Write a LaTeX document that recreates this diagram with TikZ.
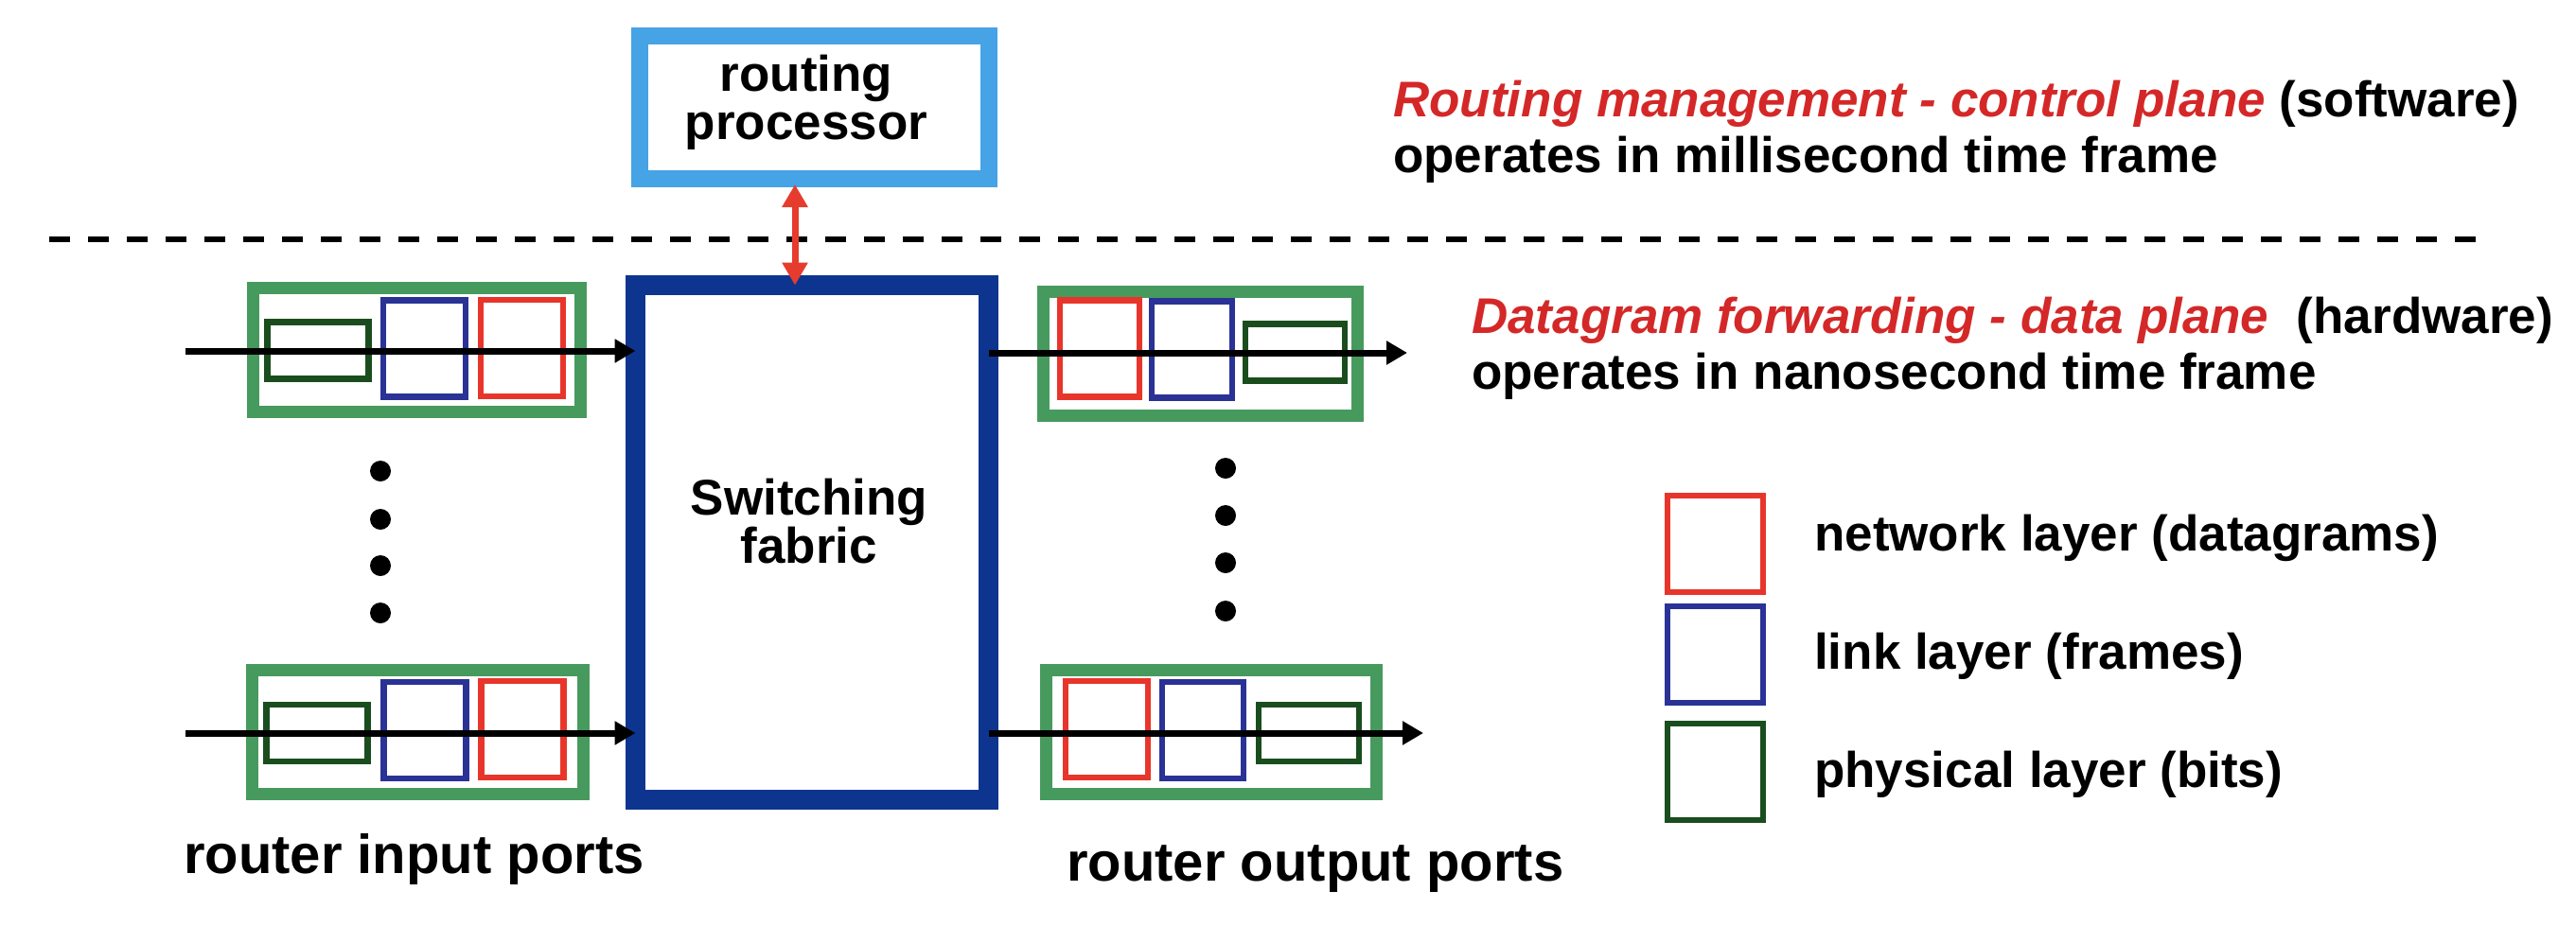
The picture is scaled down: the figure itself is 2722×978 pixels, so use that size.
\documentclass[tikz,border=0pt]{standalone}
\usepackage{fontspec}
\setmainfont{Liberation Sans}
\usetikzlibrary{arrows.meta}

\definecolor{rpblue}{RGB}{70,163,229}
\definecolor{fabblue}{RGB}{13,53,144}
\definecolor{portgreen}{RGB}{71,154,93}
\definecolor{phygreen}{RGB}{26,77,30}
\definecolor{linkblue}{RGB}{42,50,150}
\definecolor{netred}{RGB}{232,53,43}
\definecolor{planered}{RGB}{212,40,40}
\definecolor{ctrlred}{RGB}{230,60,45}

\begin{document}
\begin{tikzpicture}[x=1pt,y=-1pt,
  box/.style={draw, rectangle, inner sep=0pt, outer sep=0pt},
  port/.style={box, draw=portgreen, line width=13pt, minimum width=#1, minimum height=131pt},
  phy/.style={box, draw=phygreen, line width=6.5pt, minimum width=107pt, minimum height=60pt},
  lnk/.style={box, draw=linkblue, line width=6.5pt, minimum width=87pt, minimum height=102pt},
  net/.style={box, draw=netred, line width=6.5pt, minimum width=87pt, minimum height=102pt},
  legbox/.style={box, line width=6.5pt, minimum width=101pt, minimum height=102pt},
  txt/.style={inner sep=0pt, font=\fontsize{53}{51}\selectfont\bfseries},
  bigtxt/.style={inner sep=0pt, font=\fontsize{58}{56}\selectfont\bfseries},
  dot/.style={circle, fill=black, inner sep=0pt, minimum size=22pt},
  flow/.style={line width=7pt, -{Triangle[length=22pt,width=24pt]}},
  ctrl/.style={draw=ctrlred, line width=7pt,
    {Triangle[length=24pt,width=26pt]}-{Triangle[length=24pt,width=26pt]}},
]
\useasboundingbox (0,0) rectangle (2722,978);

% control plane: routing processor
\node[box, draw=rpblue, line width=18pt, minimum width=369pt, minimum height=151pt] (rp) at (860.5,113.5) {};
\node[txt, align=center] (rptext) at (852,108) {routing\\processor};

% control / data plane separator
\coordinate (dashL) at (52,253);
\coordinate (dashR) at (2634,253);
\draw[line width=6pt, dash pattern=on 22pt off 19pt] (dashL) -- (dashR);

% switching fabric
\node[box, draw=fabblue, line width=21pt, minimum width=373pt, minimum height=544pt] (fab) at (858,573.5) {};
\node[txt, align=center] (fabtext) at (855,551) {Switching\\fabric};

% input ports
\node[port=346pt] (inportA) at (440.5,370) {};
\node[phy] (inphyA) at (336,370.5) {};
\node[lnk] (inlnkA) at (448.5,368.5) {};
\node[net] (innetA) at (551.5,368) {};

\node[port=350pt] (inportB) at (441.5,774) {};
\node[phy] (inphyB) at (335,775) {};
\node[lnk] (inlnkB) at (449,772) {};
\node[net] (innetB) at (552,771) {};

% output ports
\node[port=332pt] (outportA) at (1268.5,374) {};
\node[net, minimum width=84pt] (outnetA) at (1162,368.5) {};
\node[lnk, minimum width=85pt] (outlnkA) at (1259.5,369.5) {};
\node[phy, minimum width=105pt] (outphyA) at (1368.5,372.5) {};

\node[port=349pt] (outportB) at (1279.5,774) {};
\node[net] (outnetB) at (1169.5,771) {};
\node[lnk, minimum width=86pt] (outlnkB) at (1271,772) {};
\node[phy, minimum width=106pt] (outphyB) at (1383,775) {};

% ellipsis dots between ports
\node[dot] (ld1) at (402,498) {};
\node[dot] (ld2) at (402,549) {};
\node[dot] (ld3) at (402,598) {};
\node[dot] (ld4) at (402,648) {};
\node[dot] (rd1) at (1295,495) {};
\node[dot] (rd2) at (1295,545) {};
\node[dot] (rd3) at (1295,595) {};
\node[dot] (rd4) at (1295,646) {};

% datagram flow through the router
\coordinate (inA) at (196,371);
\coordinate (inB) at (196,775);
\coordinate (outA) at (1487,373);
\coordinate (outB) at (1504,775);
\draw[flow] (inA) -- (inA -| fab.west);
\draw[flow] (inB) -- (inB -| fab.west);
\draw[flow] (fab.east |- outA) -- (outA);
\draw[flow] (fab.east |- outB) -- (outB);

% routing processor <-> switching fabric
\coordinate (ctrlTop) at ([xshift=-20.5pt]rp.south);
\draw[ctrl, shorten <=6pt] (ctrlTop) -- (ctrlTop |- fab.north);

% port labels
\node[bigtxt, anchor=base west] (inlabel) at (194,923) {router input ports};
\node[bigtxt, anchor=base west] (outlabel) at (1127,931) {router output ports};

% plane descriptions
\node[txt, anchor=base west] (cp1) at (1472,123) {\textcolor{planered}{\itshape Routing management - control plane} (software)};
\node[txt, anchor=base west] (cp2) at (1472,182) {operates in millisecond time frame};
\node[txt, anchor=base west] (dp1) at (1555,352) {\textcolor{planered}{\itshape Datagram forwarding - data plane}\ \ (hardware)};
\node[txt, anchor=base west] (dp2) at (1555,411) {operates in nanosecond time frame};

% legend
\node[legbox, draw=netred] (legnet) at (1812.5,575) {};
\node[legbox, draw=linkblue] (leglnk) at (1812.5,692) {};
\node[legbox, draw=phygreen] (legphy) at (1812.5,816) {};
\node[txt, anchor=base west] (legnettext) at (1917,582) {network layer (datagrams)};
\node[txt, anchor=base west] (leglnktext) at (1917,707) {link layer (frames)};
\node[txt, anchor=base west] (legphytext) at (1917,832) {physical layer (bits)};
\end{tikzpicture}
\end{document}
